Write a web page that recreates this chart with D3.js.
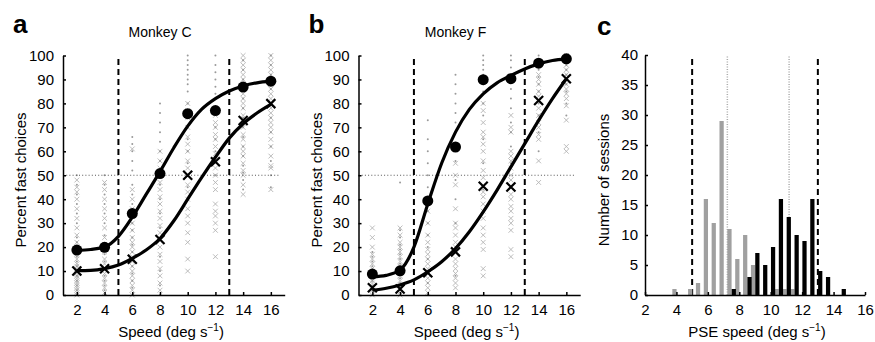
<!DOCTYPE html>
<html>
<head>
<meta charset="utf-8">
<script src="https://cdn.jsdelivr.net/npm/d3@7/dist/d3.min.js"></script>
<style>
body { margin: 0; background: #fff; }
svg text { font-family: "Liberation Sans", Arial, Helvetica, sans-serif; fill: #000; }
</style>
</head>
<body>
<svg width="875" height="342"></svg>
<script>
// ---- data ----
const speeds = [2, 4, 6, 8, 10, 12, 14, 16];
const fitSpeeds = [2, 3, 4, 5, 6, 7, 8, 9, 10, 11, 12, 13, 14, 15, 16];

// monkey C: mean percent fast choices (circles / crosses) and fitted curves
const monkeyC_circle = [18.75, 19.9, 34, 50.7, 75.7, 77, 86.8, 89.3];
const monkeyC_cross = [10, 11, 14.9, 23.2, 50, 55.6, 72.9, 79.9];
const monkeyC_circleFit = [18.6, 19.0, 20.0, 24.5, 32.5, 42, 51.5, 61.5, 70.5, 77.5, 82, 85.2, 87.3, 88.6, 89.3];
const monkeyC_crossFit = [10.2, 10.3, 11.0, 12.5, 15.3, 18.8, 23.6, 31, 40, 49, 57.5, 65.5, 71.5, 76, 79.6];

// monkey F
const monkeyF_circle = [8.75, 10.1, 39.3, 61.8, 89.9, 90.3, 96.8, 98.6];
const monkeyF_cross = [3, 2.5, 9.3, 18, 45.4, 45.1, 81.2, 90.3];
const monkeyF_circleFit = [7.6, 8.2, 10.4, 20, 38, 55, 68, 77.5, 84, 88.6, 91.7, 94.4, 96.5, 97.9, 98.6];
const monkeyF_crossFit = [2.0, 2.8, 4.2, 6.3, 9.7, 13.9, 19.4, 26.4, 34.7, 43.8, 53.5, 63.2, 72.9, 82, 90.3];

// single sessions (gray), one list per speed column
const monkeyC_sessCross = [
  [0, 1, 2, 3, 4, 5, 6, 7, 8, 9, 11, 12, 13, 15, 17, 20, 22, 25, 28, 32, 36, 40, 43, 45, 48],
  [1, 3, 5, 7, 9, 13, 15, 18, 21, 24, 28, 32, 36, 40, 44, 47],
  [0, 2, 4, 6, 8, 10, 12, 14, 16, 18, 20, 22, 24, 27, 30, 33, 36, 40, 44, 61],
  [2, 5, 8, 11, 14, 17, 20, 26, 29, 32, 35, 38, 41, 44, 47, 50, 53, 56, 60],
  [10, 15, 22, 26, 30, 33, 36, 40, 43, 46, 53, 56, 60, 63, 66, 70, 74, 77, 80],
  [16, 27, 30, 33, 35, 38, 44, 47, 50, 53, 59, 62, 65, 67, 70, 72, 75],
  [42, 46, 50, 52, 55, 58, 60, 62, 65, 67, 70, 75, 78, 80, 82, 84, 86, 88, 90, 92, 94, 96, 98, 100],
  [44, 53, 54, 58, 62, 65, 68, 70, 72, 74, 76, 78, 80, 82, 84, 86, 88, 90, 92, 94, 96, 98, 100]
];
const monkeyC_sessDot = [
  [0, 2, 4, 6, 8, 12, 14, 16, 22, 24, 30, 34, 38, 42, 46, 50],
  [0, 2, 4, 6, 8, 14, 17, 25, 30, 34, 38, 42, 46, 50],
  [0, 3, 6, 9, 12, 18, 21, 24, 27, 30, 38, 42, 46, 52, 56, 60, 63, 66],
  [0, 4, 10, 16, 28, 34, 40, 46, 56, 60, 64, 68, 72, 76, 80],
  [40, 45, 55, 60, 65, 70, 80, 85, 88, 90, 92, 94, 96, 98, 100],
  [50, 60, 65, 70, 84, 87, 90, 93, 96, 100],
  [44, 48, 51, 54, 58, 62, 66, 70, 74, 78, 82, 86, 90, 94, 98],
  [45, 50, 56, 62, 68, 74, 80, 86, 92, 96, 100]
];
const monkeyF_sessCross = [
  [0, 2, 5, 6, 8, 11, 13, 15, 17, 20, 24, 28],
  [0, 4, 6, 8, 12, 14, 16, 18, 20, 22, 25, 28],
  [1, 3, 5, 7, 11, 13, 15, 17, 19, 22, 25, 30, 35],
  [3, 5, 7, 9, 11, 13, 15, 20, 22, 25, 28, 30, 36, 46, 50, 55],
  [8, 11, 19, 22, 25, 28, 32, 35, 38, 41, 43, 49, 52, 56, 60, 63, 66, 68, 72, 77, 80],
  [16, 19, 27, 30, 32, 35, 37, 40, 42, 48, 50, 53, 56, 58, 60, 68, 70, 75],
  [47, 56, 65, 67, 70, 72, 75, 78, 83, 85, 88, 90, 92],
  [60, 62, 73, 79, 82, 84, 86, 88, 92, 94, 96, 100]
];
const monkeyF_sessDot = [
  [0, 2, 4, 6, 10, 12, 14, 16, 18],
  [1, 3, 5, 7, 9, 13, 15, 17, 19, 21, 24, 27, 47],
  [0, 5, 10, 15, 20, 25, 30, 35, 45, 50, 55, 60, 65, 73],
  [8, 20, 30, 40, 48, 56, 68, 72, 76, 80, 84, 88, 92],
  [44, 55, 65, 75, 80, 85, 88, 92, 94, 96, 98, 100],
  [55, 62, 68, 72, 78, 82, 86, 89, 95, 98, 100],
  [60, 68, 75, 80, 85, 88, 91, 94, 98, 100],
  [75, 80, 85, 88, 92, 94, 96, 98]
];

// panel c: PSE histograms (bar centre speed, number of sessions)
const pseGrayCenters = [3.875, 4.875, 5.375, 5.875, 6.375, 6.875, 7.375, 7.875, 8.375, 8.875, 10.375, 10.875, 11.375];
const pseGrayCounts = [1, 1, 2, 16, 12, 29, 11, 6, 10, 5, 1, 1, 1];
const pseBlackCenters = [7.65, 8.65, 9.15, 9.65, 10.15, 10.65, 11.15, 11.65, 12.15, 12.65, 13.15, 13.65, 14.65];
const pseBlackCounts = [1, 3, 7, 5, 8, 16, 13, 10, 9, 16, 4, 3, 1];

const boundarySpeeds = [5, 13];     // dashed lines
const meanPse = [7.24, 11.17];      // dotted gray lines in c
const chance = 50;                   // dotted horizontal line

const xTicksAB = [2, 4, 6, 8, 10, 12, 14, 16];
const yTicksAB = [0, 10, 20, 30, 40, 50, 60, 70, 80, 90, 100];
const xTicksC = [2, 4, 6, 8, 10, 12, 14, 16];
const yTicksC = [0, 5, 10, 15, 20, 25, 30, 35, 40];

const svg = d3.select("svg");
const FONT = 15;

// x marker path
function crossPath(s) {
  return `M${-s},${-s}L${s},${s}M${-s},${s}L${s},${-s}`;
}

// axis text with a superscript "−1"
function addUnitLabel(sel, prefix) {
  sel.append("tspan").text(prefix + " (deg s");
  sel.append("tspan").attr("font-size", 10).attr("dy", -6).text("\u22121");
  sel.append("tspan").attr("dy", 6).text(")");
}

function styleAxis(g) {
  g.selectAll(".domain").attr("stroke", "#000").attr("stroke-width", 1.5);
  g.selectAll(".tick line").attr("stroke", "#000").attr("stroke-width", 1.5);
  g.selectAll(".tick text").attr("font-size", FONT).attr("fill", "#000")
    .attr("font-family", '"Liberation Sans", Arial, sans-serif');
}

function drawPsycho(opt) {
  const x = d3.scaleLinear().domain([1, 17]).range([opt.left, opt.left + 221.7]);
  const y = d3.scaleLinear().domain([0, 100]).range([295, 55.5]);
  const g = svg.append("g");

  // gray single-session marks
  speeds.forEach((s, i) => {
    g.selectAll(null).data(opt.sessCross[i]).enter().append("path")
      .attr("d", crossPath(2.4))
      .attr("transform", d => `translate(${x(s)},${y(d)})`)
      .attr("stroke", "#b4b4b4").attr("stroke-width", 0.9).attr("fill", "none");
    g.selectAll(null).data(opt.sessDot[i]).enter().append("circle")
      .attr("cx", x(s)).attr("cy", d => y(d)).attr("r", 1)
      .attr("fill", "#9a9a9a");
  });

  // chance line
  g.append("line")
    .attr("x1", x(1)).attr("x2", x(16.7))
    .attr("y1", y(chance)).attr("y2", y(chance))
    .attr("stroke", "#555").attr("stroke-width", 1).attr("stroke-dasharray", "1,2.2");

  // boundary lines
  g.selectAll(null).data(boundarySpeeds).enter().append("line")
    .attr("x1", d => x(d)).attr("x2", d => x(d))
    .attr("y1", y(0)).attr("y2", y(98.8))
    .attr("stroke", "#000").attr("stroke-width", 2).attr("stroke-dasharray", "6,4");

  // fitted curves
  const line = d3.line()
    .x((d, i) => x(fitSpeeds[i]))
    .y(d => y(d))
    .curve(d3.curveMonotoneX);
  [opt.circleFit, opt.crossFit].forEach(fit => {
    g.append("path").attr("d", line(fit))
      .attr("fill", "none").attr("stroke", "#000").attr("stroke-width", 3.2);
  });

  // mean data
  g.selectAll(null).data(opt.circle).enter().append("circle")
    .attr("cx", (d, i) => x(speeds[i])).attr("cy", d => y(d)).attr("r", 5.5)
    .attr("fill", "#000");
  g.selectAll(null).data(opt.cross).enter().append("path")
    .attr("d", crossPath(4.5))
    .attr("transform", (d, i) => `translate(${x(speeds[i])},${y(d)})`)
    .attr("stroke", "#000").attr("stroke-width", 2.2).attr("fill", "none");

  // axes
  const ax = g.append("g").attr("transform", "translate(0,295)")
    .call(d3.axisBottom(x).tickValues(xTicksAB).tickSizeInner(-3).tickSizeOuter(0).tickPadding(9));
  styleAxis(ax);
  const ay = g.append("g").attr("transform", `translate(${opt.left},0)`)
    .call(d3.axisLeft(y).tickValues(yTicksAB).tickSizeInner(-3).tickSizeOuter(0).tickPadding(9));
  styleAxis(ay);

  // labels
  g.append("text").attr("x", opt.left - 37).attr("y", 180)
    .attr("transform", `rotate(-90,${opt.left - 37},180)`)
    .attr("text-anchor", "middle").attr("font-size", FONT)
    .text("Percent fast choices");
  addUnitLabel(g.append("text").attr("x", x(8.8)).attr("y", 337)
    .attr("text-anchor", "middle").attr("font-size", FONT), "Speed");
  g.append("text").attr("x", x(8.0)).attr("y", 37)
    .attr("text-anchor", "middle").attr("font-size", 14).text(opt.title);
  g.append("text").attr("x", opt.left - 50).attr("y", 33)
    .attr("font-size", 26).attr("font-weight", "bold").text(opt.letter);
}

drawPsycho({
  left: 63, letter: "a", title: "Monkey C",
  circle: monkeyC_circle, cross: monkeyC_cross,
  circleFit: monkeyC_circleFit, crossFit: monkeyC_crossFit,
  sessCross: monkeyC_sessCross, sessDot: monkeyC_sessDot
});
drawPsycho({
  left: 358.5, letter: "b", title: "Monkey F",
  circle: monkeyF_circle, cross: monkeyF_cross,
  circleFit: monkeyF_circleFit, crossFit: monkeyF_crossFit,
  sessCross: monkeyF_sessCross, sessDot: monkeyF_sessDot
});

// ---- panel c ----
function drawHist() {
  const x = d3.scaleLinear().domain([2, 16]).range([645, 865]);
  const y = d3.scaleLinear().domain([0, 40]).range([295, 55]);
  const g = svg.append("g");
  const bw = x(2.27) - x(2);

  g.selectAll(null).data(meanPse).enter().append("line")
    .attr("x1", d => x(d)).attr("x2", d => x(d))
    .attr("y1", y(0)).attr("y2", y(40))
    .attr("stroke", "#aaa").attr("stroke-width", 1.5).attr("stroke-dasharray", "1,1.5");
  g.selectAll(null).data(boundarySpeeds).enter().append("line")
    .attr("x1", d => x(d)).attr("x2", d => x(d))
    .attr("y1", y(0)).attr("y2", y(39.6))
    .attr("stroke", "#000").attr("stroke-width", 2).attr("stroke-dasharray", "6,4");

  g.selectAll(null).data(pseGrayCounts).enter().append("rect")
    .attr("x", (d, i) => x(pseGrayCenters[i]) - bw / 2).attr("width", bw)
    .attr("y", d => y(d)).attr("height", d => y(0) - y(d))
    .attr("fill", "#a0a0a0");
  g.selectAll(null).data(pseBlackCounts).enter().append("rect")
    .attr("x", (d, i) => x(pseBlackCenters[i]) - bw / 2).attr("width", bw)
    .attr("y", d => y(d)).attr("height", d => y(0) - y(d))
    .attr("fill", "#000");

  const ax = g.append("g").attr("transform", "translate(0,295)")
    .call(d3.axisBottom(x).tickValues(xTicksC).tickSizeInner(-3).tickSizeOuter(0).tickPadding(9));
  styleAxis(ax);
  const ay = g.append("g").attr("transform", "translate(645,0)")
    .call(d3.axisLeft(y).tickValues(yTicksC).tickSizeInner(-3).tickSizeOuter(0).tickPadding(7));
  styleAxis(ay);

  g.append("text").attr("x", 609).attr("y", 180)
    .attr("transform", "rotate(-90,609,180)")
    .attr("text-anchor", "middle").attr("font-size", FONT)
    .text("Number of sessions");
  addUnitLabel(g.append("text").attr("x", 757).attr("y", 337)
    .attr("text-anchor", "middle").attr("font-size", FONT), "PSE speed");
  g.append("text").attr("x", 597).attr("y", 35)
    .attr("font-size", 26).attr("font-weight", "bold").text("c");
}
drawHist();
</script>
</body>
</html>
